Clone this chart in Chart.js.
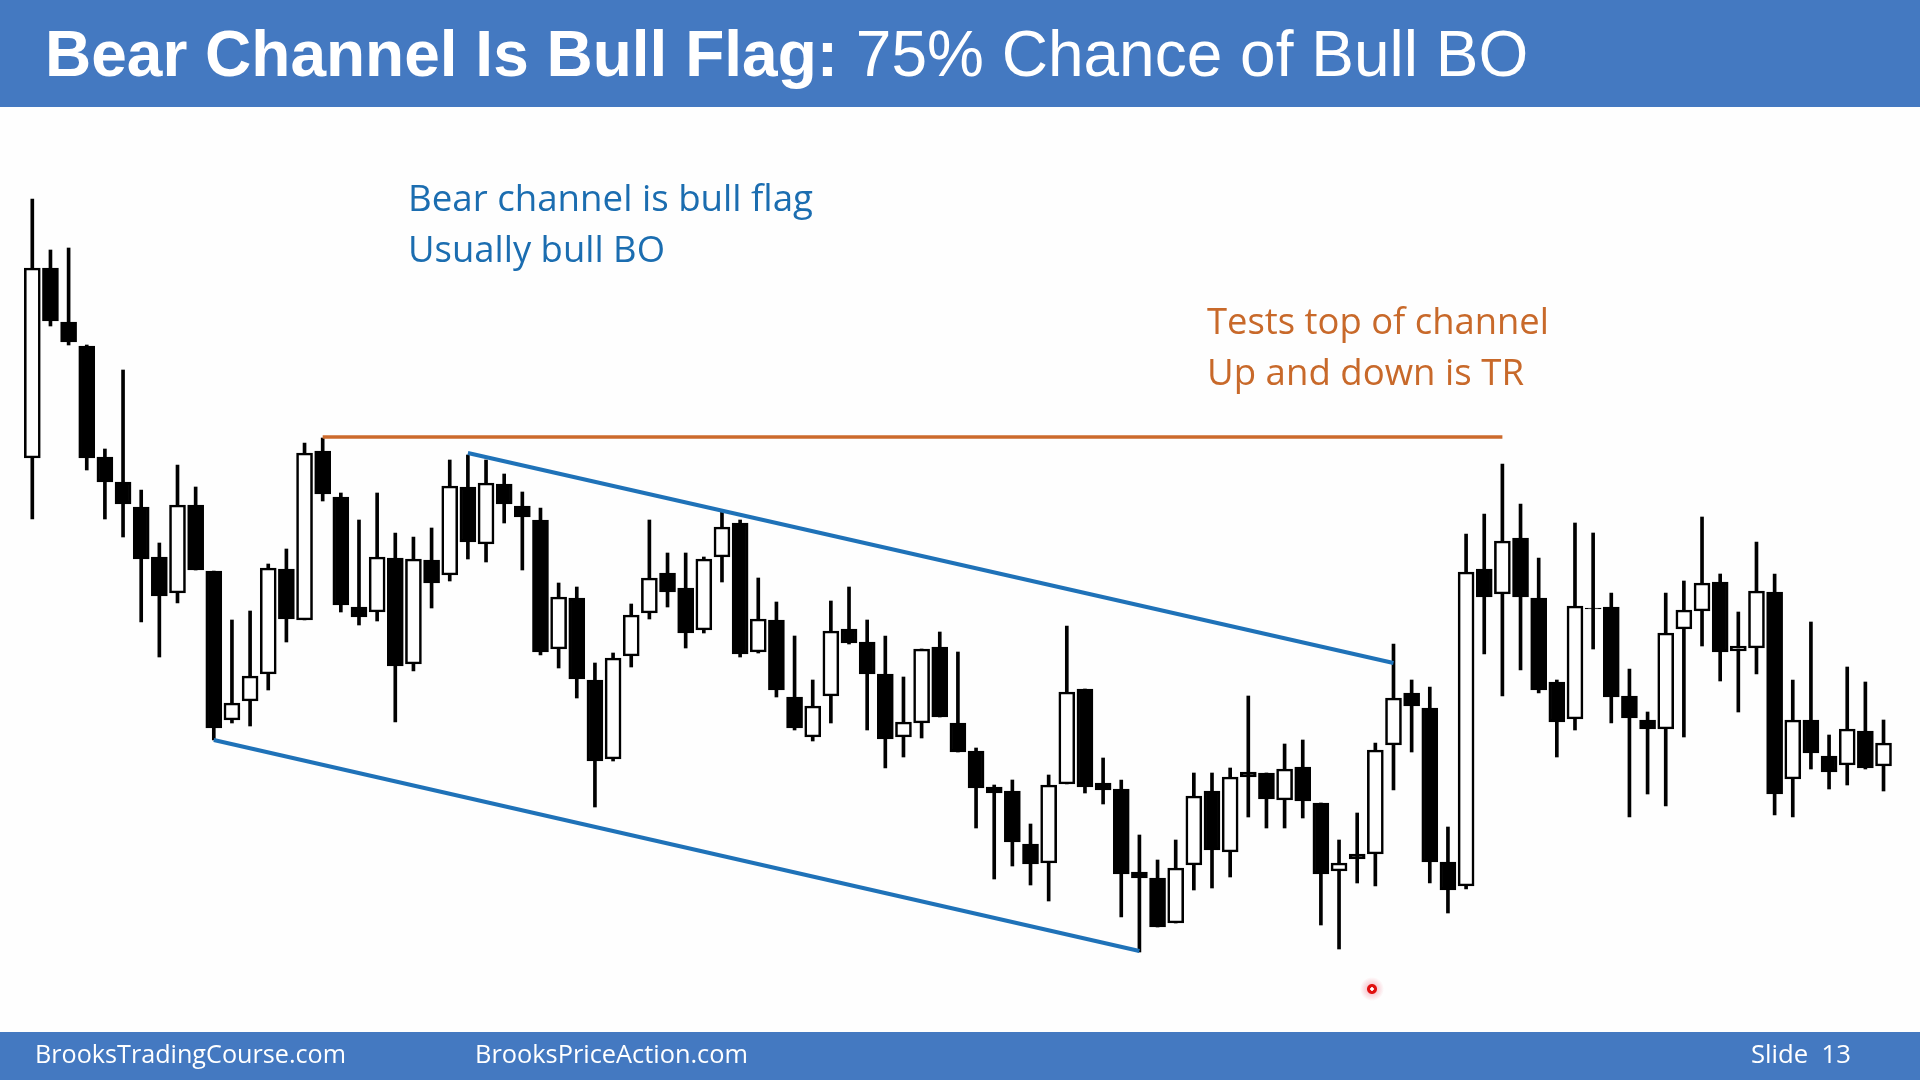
<!DOCTYPE html>
<html>
<head>
<meta charset="utf-8">
<script src="https://cdn.jsdelivr.net/npm/chart.js@4.4.1/dist/chart.umd.min.js"></script>
<style>
  html, body { margin:0; padding:0; width:1920px; height:1080px; overflow:hidden; background:#FEFEFE; }
  #wrap { position:absolute; left:0; top:0; width:1920px; height:1080px; }
  .bar { position:absolute; left:0; width:1920px; background:#4479C1; }
  .t { position:absolute; line-height:1; white-space:nowrap; }
  .t .strut { display:inline-block; width:0; height:100px; vertical-align:baseline; }
  .t .fit { display:inline-block; transform-origin:0 50%; }
  .note { font-family:"Open Sans", sans-serif; font-size:37px; }
  .foot { font-family:"Open Sans", sans-serif; font-size:26px; color:#FFFFFF; }
  .title { font-family:"Liberation Sans", Arial, sans-serif; font-size:64px; color:#FFFFFF; }
  #dot { position:absolute; left:1360px; top:977px; width:24px; height:24px; border-radius:50%;
         background: radial-gradient(circle, #ffffff 0 1.5px, #E01010 2px 4.5px, rgba(240,120,140,0.35) 5.5px, rgba(255,255,255,0) 12px); }
</style>
</head>
<body>
<div id="wrap"><canvas id="c"></canvas></div>

<div class="bar" style="top:0;height:107px;"></div>
<div class="bar" style="top:1032px;height:48px;"></div>

<div class="t title" style="left:45px; top:-24px;"><i class="strut"></i><span style="font-weight:bold">Bear Channel Is Bull Flag:</span><span> 75% Chance of Bull BO</span></div>

<div class="t note" style="left:408px; top:111px; color:#1B6DB0;"><i class="strut"></i><span class="fit" data-w="405">Bear channel is bull flag</span></div>
<div class="t note" style="left:408px; top:162px; color:#1B6DB0;"><i class="strut"></i><span class="fit" data-w="257">Usually bull BO</span></div>
<div class="t note" style="left:1207px; top:234px; color:#C8692A;"><i class="strut"></i><span class="fit" data-w="342">Tests top of channel</span></div>
<div class="t note" style="left:1207px; top:285px; color:#C8692A;"><i class="strut"></i><span class="fit" data-w="317">Up and down is TR</span></div>

<div class="t foot" style="left:35px; top:963px;"><i class="strut"></i><span class="fit" data-w="311">BrooksTradingCourse.com</span></div>
<div class="t foot" style="left:475px; top:963px;"><i class="strut"></i><span class="fit" data-w="273">BrooksPriceAction.com</span></div>
<div class="t foot" style="left:1751px; top:963px;"><i class="strut"></i><span class="fit" data-w="100">Slide&nbsp;&nbsp;13</span></div>

<div id="dot"></div>

<script>
// OHLC values (price units), one entry per bar, left to right
const opens  = [542,732,678,654,543,518,493,443,407,495,429,280,299,326,431,380,549,503,393,388,442,336,440,425,513,456,516,494,480,351,402,320,241,344,387,427,412,370,443,477,348,380,303,263,304,371,358,326,263,277,353,277,249,213,209,156,137,216,311,217,211,128,122,77,135,209,148,228,227,200,233,197,129,146,146,255,307,292,138,114,431,406,462,402,318,281,392,393,304,280,271,371,389,418,349,352,408,221,280,244,235,269,234];
const highs  = [801,750,752,655,551,630,510,457,535,513,429,380,389,436,451,557,562,507,480,507,467,463,472,540,545,540,526,508,492,417,413,337,347,396,480,447,447,443,488,480,422,398,364,320,399,413,380,364,323,351,368,348,252,215,220,176,225,374,311,242,220,165,140,160,227,227,232,304,227,256,260,197,160,187,257,356,320,313,173,466,486,536,496,442,320,477,467,407,331,288,407,419,483,426,388,458,426,320,378,265,333,318,280];
const lows   = [481,674,655,530,481,463,378,343,397,430,260,277,274,310,358,380,499,388,375,379,278,329,392,419,441,438,477,430,345,332,302,193,239,333,381,393,352,367,418,343,347,303,270,259,277,356,270,232,243,262,283,248,172,121,134,115,99,216,207,196,83,48,73,77,110,112,123,183,172,172,182,75,51,117,114,210,248,117,87,111,346,304,330,307,243,270,351,277,183,206,194,263,354,319,288,326,185,183,231,211,215,231,209];
const closes = [732,679,658,542,518,496,441,404,495,430,272,297,324,432,381,547,506,395,383,443,334,441,417,514,458,517,496,483,348,403,321,239,342,385,422,408,367,441,473,346,381,310,272,294,369,357,326,261,278,351,283,248,212,207,158,136,215,308,213,210,126,122,73,132,204,150,223,223,201,231,199,126,137,141,250,302,294,138,110,428,403,459,403,310,278,394,391,303,282,271,367,390,417,348,354,409,206,280,247,228,271,232,257];

// Annotation lines: [bar index, price] endpoints
const resistanceLine   = [[16, 563], [81, 563]];
const channelTopLine   = [[24, 547], [75, 337]];
const channelBottomLine= [[10, 260], [61, 49]];

const idx = opens.map((_, i) => i);
const toPts = arr => arr.map(p => ({x: p[0], y: p[1]}));

new Chart(document.getElementById('c'), {
  data: {
    datasets: [
      {
        type: 'line', data: toPts(resistanceLine), borderColor: '#CC6A2C', borderWidth: 3.5,
        pointRadius: 0, order: 1
      },
      {
        type: 'line', data: toPts(channelTopLine), borderColor: '#1F72B8', borderWidth: 4,
        pointRadius: 0, order: 1
      },
      {
        type: 'line', data: toPts(channelBottomLine), borderColor: '#1F72B8', borderWidth: 4,
        pointRadius: 0, order: 1
      },
      {
        type: 'bar', data: idx.map(i => ({x: i, y: [opens[i], closes[i]]})),
        backgroundColor: idx.map(i => closes[i] >= opens[i] ? '#FFFFFF' : '#000000'),
        borderColor: '#000000', borderWidth: 2.6, borderSkipped: false,
        barThickness: 16, grouped: false, order: 2
      },
      {
        type: 'bar', data: idx.map(i => ({x: i, y: [lows[i], highs[i]]})),
        backgroundColor: '#000000', borderWidth: 0,
        barThickness: 3, grouped: false, order: 3
      }
    ]
  },
  options: {
    responsive: true, maintainAspectRatio: false, animation: false,
    layout: { padding: 0 },
    plugins: { legend: { display: false }, tooltip: { enabled: false } },
    scales: {
      x: { type: 'linear', min: -1.78, max: 104.01, display: false, offset: false, grid: { display: false } },
      y: { type: 'linear', min: -80, max: 1000, display: false, grid: { display: false } }
    }
  }
});

document.querySelectorAll('.fit').forEach(el => {
  const w = el.getBoundingClientRect().width;
  const target = parseFloat(el.dataset.w);
  if (w > 0) el.style.transform = 'scaleX(' + (target / w) + ')';
});
</script>
</body>
</html>
